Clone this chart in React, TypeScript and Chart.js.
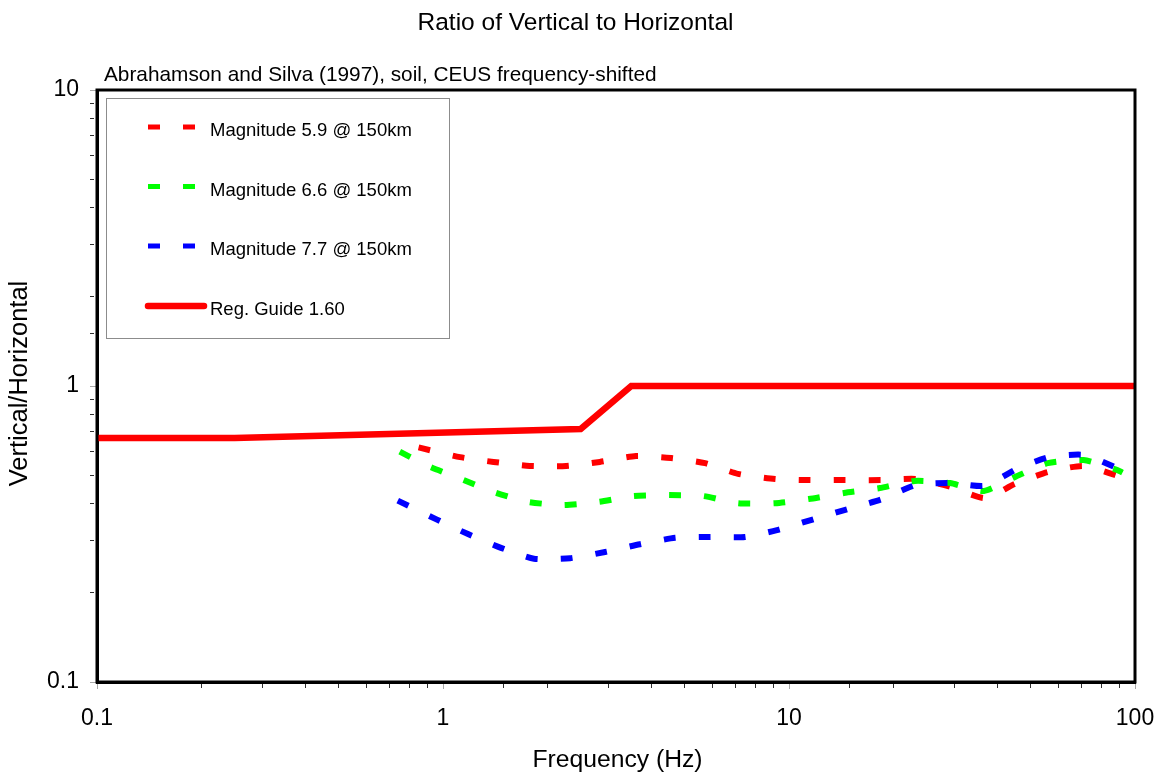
import React, { useEffect, useRef } from "react";
import { Chart, registerables } from "chart.js";

Chart.register(...registerables);

const FONT = "'Liberation Sans', Arial, Helvetica, sans-serif";

const chartTitle = "Ratio of Vertical to Horizontal";
const chartSubtitle = "Abrahamson and Silva (1997), soil, CEUS frequency-shifted";
const xAxisTitle = "Frequency (Hz)";
const yAxisTitle = "Vertical/Horizontal";

const seriesNames = [
  "Magnitude 5.9 @ 150km",
  "Magnitude 6.6 @ 150km",
  "Magnitude 7.7 @ 150km",
  "Reg. Guide 1.60",
];
const seriesColors = ["#ff0000", "#00ff00", "#0000ff", "#ff0000"];

const xMin = 0.1;
const xMax = 100;
const yMin = 0.1;
const yMax = 10;

// Magnitude 5.9 @ 150km
const freqM59 = [0.85, 1.12, 1.4, 1.78, 2.27, 2.84, 3.61, 4.56, 5.72, 7.12, 9.12, 11.4, 14.5, 18.4, 23.3, 29.4, 36.8, 45, 56, 71, 89, 92];
const ratioM59 = [0.62, 0.575, 0.554, 0.537, 0.537, 0.554, 0.58, 0.571, 0.549, 0.505, 0.485, 0.481, 0.481, 0.481, 0.485, 0.456, 0.418, 0.467, 0.512, 0.537, 0.497, 0.485];

// Magnitude 6.6 @ 150km
const freqM66 = [0.75, 0.905, 1.127, 1.404, 1.761, 2.22, 2.82, 3.54, 4.5, 5.64, 7.12, 9.12, 11.4, 14.4, 18.3, 23.1, 29.2, 36.6, 45, 56, 71, 89, 92];
const ratioM66 = [0.6, 0.537, 0.485, 0.438, 0.406, 0.396, 0.406, 0.425, 0.428, 0.425, 0.402, 0.402, 0.415, 0.435, 0.452, 0.478, 0.47, 0.442, 0.493, 0.549, 0.562, 0.52, 0.51];

// Magnitude 7.7 @ 150km
const freqM77 = [0.74, 0.954, 1.181, 1.471, 1.832, 2.33, 2.94, 3.71, 4.69, 5.91, 7.46, 9.23, 11.8, 14.8, 18.6, 23.3, 29.4, 36.8, 45.6, 56.4, 71.3, 89, 92];
const ratioM77 = [0.41, 0.355, 0.316, 0.284, 0.261, 0.262, 0.275, 0.292, 0.307, 0.309, 0.309, 0.326, 0.355, 0.384, 0.415, 0.463, 0.47, 0.46, 0.525, 0.575, 0.585, 0.528, 0.52];

// Reg. Guide 1.60
const freqRG = [0.1, 0.25, 2.5, 3.5, 100];
const ratioRG = [0.667, 0.667, 0.716, 1.0, 1.0];

const toPoints = (xs: number[], ys: number[]) => xs.map((x, i) => ({ x, y: ys[i] }));

const isMajor = (v: number) => {
  if (!(v > 0)) return false;
  const l = Math.log10(v);
  return Math.abs(l - Math.round(l)) < 1e-6;
};

const tickLabel = (v: number) => {
  if (!isMajor(v)) return "";
  const p = Math.round(Math.log10(v));
  return p < 0 ? (10 ** p).toFixed(-p) : String(10 ** p);
};

const decorPlugin = {
  id: "decor",
  afterDraw(chart: any) {
    const { ctx, chartArea: a } = chart;
    ctx.save();
    // plot frame
    ctx.strokeStyle = "#000";
    ctx.lineWidth = 3;
    ctx.strokeRect(a.left, a.top, a.right - a.left, a.bottom - a.top);

    ctx.fillStyle = "#000";
    // title
    ctx.font = `24.5px ${FONT}`;
    ctx.textAlign = "center";
    ctx.textBaseline = "alphabetic";
    ctx.fillText(chartTitle, 575.5, 30);
    // subtitle
    ctx.font = `20.8px ${FONT}`;
    ctx.textAlign = "left";
    ctx.fillText(chartSubtitle, a.left + 7, 81);
    // x title
    ctx.font = `24.7px ${FONT}`;
    ctx.textAlign = "center";
    ctx.fillText(xAxisTitle, 617.5, 767);
    // y title
    ctx.save();
    ctx.font = `25.5px ${FONT}`;
    ctx.translate(27, 383.5);
    ctx.rotate(-Math.PI / 2);
    ctx.fillText(yAxisTitle, 0, 0);
    ctx.restore();

    // legend box
    const bx = a.left + 9.5;
    const by = a.top + 8.5;
    ctx.fillStyle = "#ffffff";
    ctx.fillRect(bx, by, 343, 240);
    ctx.strokeStyle = "#8c8c8c";
    ctx.lineWidth = 1;
    ctx.strokeRect(bx, by, 343, 240);

    const rowY = [a.top + 37, a.top + 96.5, a.top + 156, a.top + 216];
    ctx.font = `18.5px ${FONT}`;
    ctx.textAlign = "left";
    ctx.textBaseline = "alphabetic";
    for (let i = 0; i < 4; i++) {
      const y = rowY[i];
      ctx.strokeStyle = seriesColors[i];
      ctx.beginPath();
      if (i < 3) {
        ctx.lineWidth = 5;
        ctx.lineCap = "butt";
        ctx.setLineDash([12, 23]);
        ctx.moveTo(a.left + 51, y);
        ctx.lineTo(a.left + 98, y);
      } else {
        ctx.lineWidth = 6.5;
        ctx.lineCap = "round";
        ctx.setLineDash([]);
        ctx.moveTo(a.left + 51, y);
        ctx.lineTo(a.left + 107, y);
      }
      ctx.stroke();
      ctx.setLineDash([]);
      ctx.fillStyle = "#000";
      ctx.fillText(seriesNames[i], a.left + 113, y + 9);
    }
    ctx.restore();
  },
};

const tickColor = (c: any) => (c.tick && isMajor(c.tick.value) ? "#a8a8a8" : "#303030");
const tickDash = (c: any) => (c.tick && isMajor(c.tick.value) ? [] : [4, 30]);

export default function App() {
  const ref = useRef<HTMLCanvasElement>(null);

  useEffect(() => {
    document.body.style.margin = "0";
    const canvas = ref.current;
    if (!canvas) return;
    const chart = new Chart(canvas, {
      type: "line",
      data: {
        datasets: [
          {
            label: seriesNames[2],
            data: toPoints(freqM77, ratioM77),
            borderColor: seriesColors[2],
            borderWidth: 6,
            borderDash: [12, 23],
            borderCapStyle: "butt",
            fill: false,
            tension: 0.2,
            pointRadius: 0,
            order: 0,
          },
          {
            label: seriesNames[1],
            data: toPoints(freqM66, ratioM66),
            borderColor: seriesColors[1],
            borderWidth: 6,
            borderDash: [12, 23],
            borderCapStyle: "butt",
            fill: false,
            tension: 0.2,
            pointRadius: 0,
            order: 1,
          },
          {
            label: seriesNames[0],
            data: toPoints(freqM59, ratioM59),
            borderColor: seriesColors[0],
            borderWidth: 6,
            borderDash: [12, 23],
            borderCapStyle: "butt",
            fill: false,
            tension: 0.2,
            pointRadius: 0,
            order: 2,
          },
          {
            label: seriesNames[3],
            data: toPoints(freqRG, ratioRG),
            borderColor: seriesColors[3],
            borderWidth: 6.5,
            borderCapStyle: "butt",
            borderJoinStyle: "miter",
            fill: false,
            tension: 0,
            pointRadius: 0,
            order: 3,
          },
        ],
      },
      options: {
        animation: false,
        responsive: false,
        devicePixelRatio: 1,
        layout: { padding: { top: 90, right: 27, left: 0, bottom: 0 } },
        plugins: {
          legend: { display: false },
          title: { display: false },
          tooltip: { enabled: false },
        },
        scales: {
          x: {
            type: "logarithmic",
            position: "bottom",
            min: xMin,
            max: xMax,
            afterFit: (s: any) => {
              s.height = 93;
              s.paddingLeft = 0;
              s.paddingRight = 0;
            },
            border: { display: true, color: "#000", width: 3 },
            grid: {
              drawOnChartArea: false,
              drawTicks: true,
              tickLength: 7,
              tickWidth: 1,
              tickColor: tickColor,
              tickBorderDash: tickDash,
            },
            ticks: {
              autoSkip: false,
              maxRotation: 0,
              minRotation: 0,
              padding: 16,
              color: "#000",
              font: { family: FONT, size: 23 },
              callback: (v: any) => tickLabel(Number(v)),
            },
          },
          y: {
            type: "logarithmic",
            position: "left",
            min: yMin,
            max: yMax,
            afterFit: (s: any) => {
              s.width = 97;
              s.paddingTop = 0;
              s.paddingBottom = 0;
            },
            border: { display: true, color: "#000", width: 3 },
            grid: {
              drawOnChartArea: false,
              drawTicks: true,
              tickLength: 7,
              tickWidth: 1,
              tickColor: tickColor,
              tickBorderDash: tickDash,
            },
            ticks: {
              autoSkip: false,
              padding: 11,
              color: "#000",
              font: { family: FONT, size: 23 },
              callback: (v: any) => tickLabel(Number(v)),
            },
          },
        },
      } as any,
      plugins: [decorPlugin],
    });
    return () => chart.destroy();
  }, []);

  return (
    <div style={{ width: 1162, height: 775, background: "#fff" }}>
      <canvas ref={ref} width={1162} height={775} style={{ display: "block", width: 1162, height: 775 }} />
    </div>
  );
}
